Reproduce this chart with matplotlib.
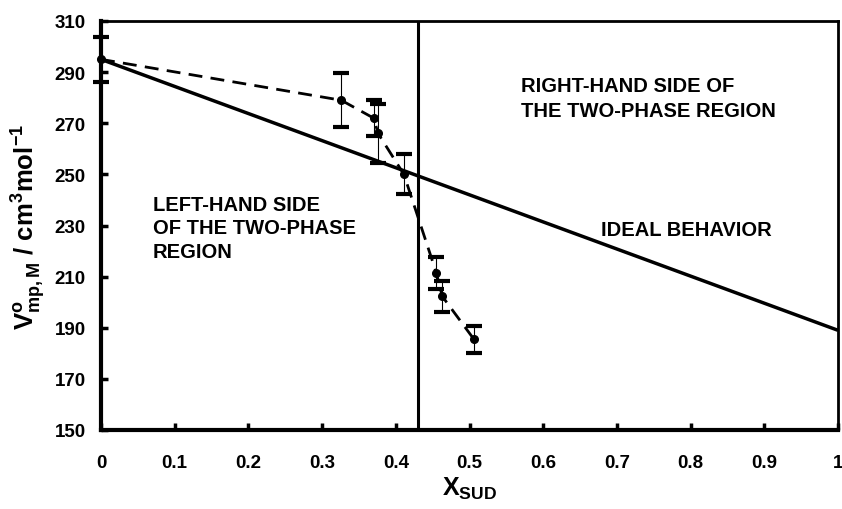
import matplotlib
matplotlib.use('Agg')
import matplotlib.pyplot as plt

plt.rcParams['font.family'] = ['Liberation Sans', 'DejaVu Sans']
plt.rcParams['font.weight'] = 'bold'
plt.rcParams['mathtext.fontset'] = 'custom'
plt.rcParams['mathtext.rm'] = 'Liberation Sans:bold'
plt.rcParams['mathtext.it'] = 'Liberation Sans:bold'
plt.rcParams['mathtext.bf'] = 'Liberation Sans:bold'

# measured points
x_sud = [0.0, 0.326, 0.370, 0.376, 0.411, 0.455, 0.463, 0.506]
v_mp = [295.0, 279.0, 272.0, 266.0, 250.0, 211.5, 202.3, 185.5]
v_err = [8.8, 10.5, 7.0, 11.5, 7.8, 6.3, 6.1, 5.3]

# ideal mixing line
x_ideal = [0.0, 1.0]
v_ideal = [295.0, 189.0]

x_boundary = 0.43

fig = plt.figure(figsize=(8.42, 5.10), dpi=100)
ax = fig.add_axes([101 / 842, 1 - 431 / 510, 737 / 842, 409 / 510])

ax.plot(x_ideal, v_ideal, color='black', lw=2.5, solid_capstyle='butt')
ax.axvline(x_boundary, color='black', lw=2.2)
ax.errorbar(x_sud, v_mp, yerr=v_err, fmt='none', ecolor='black',
            elinewidth=0.8, capsize=6, capthick=3, clip_on=False)
ax.plot(x_sud, v_mp, color='black', lw=2, ls=(0, (5, 3)),
        marker='o', ms=5.5, clip_on=False)

ax.set_xlim(0, 1)
ax.set_ylim(150, 310)
ax.set_xticks([0, 0.1, 0.2, 0.3, 0.4, 0.5, 0.6, 0.7, 0.8, 0.9, 1])
ax.set_xticklabels(['0', '0.1', '0.2', '0.3', '0.4', '0.5', '0.6', '0.7', '0.8', '0.9', '1'])
ax.set_yticks(range(150, 311, 20))
ax.tick_params(direction='in', length=5, width=2.5, labelsize=13.5)
ax.tick_params(axis='x', pad=17)
ax.tick_params(axis='y', pad=11)
for lbl in ax.get_xticklabels() + ax.get_yticklabels():
    lbl.set_fontweight('bold')

ax.spines['left'].set_linewidth(3)
ax.spines['bottom'].set_linewidth(3)
ax.spines['top'].set_linewidth(2)
ax.spines['right'].set_linewidth(2)

ax.set_xlabel(r'X$_{\mathrm{SUD}}$', fontsize=18, fontweight='bold', labelpad=3)
ax.set_ylabel(r'V$^{\mathrm{o}}_{\mathrm{mp,M}}$ / cm$^{3}$mol$^{-1}$',
              fontsize=18.5, fontweight='bold', labelpad=5)

ax.text(0.570, 288.5, 'RIGHT-HAND SIDE OF\nTHE TWO-PHASE REGION', fontsize=14.5,
        fontweight='bold', va='top', ha='left', linespacing=1.38)
ax.text(0.070, 242, 'LEFT-HAND SIDE\nOF THE TWO-PHASE\nREGION', fontsize=14.5,
        fontweight='bold', va='top', ha='left', linespacing=1.3)
ax.text(0.678, 228.5, 'IDEAL BEHAVIOR', fontsize=14.5, fontweight='bold',
        va='center', ha='left')

fig.savefig('out.png', dpi=100)
